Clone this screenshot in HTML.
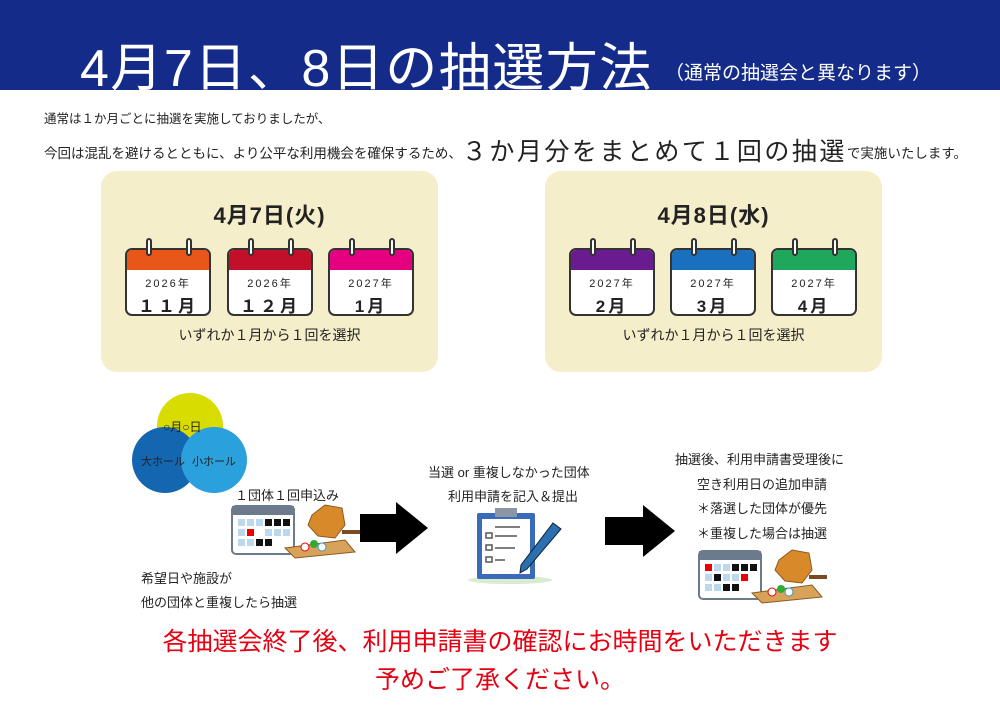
<!DOCTYPE html>
<html><head><meta charset="utf-8"><style>
*{margin:0;padding:0;box-sizing:border-box}
body{width:1000px;height:707px;background:#fff;position:relative;overflow:hidden;font-family:"Liberation Sans","Noto Sans CJK JP",sans-serif;color:#222}
.a{position:absolute;white-space:nowrap}
.box{position:absolute;background:#f5eecb;border-radius:16px;top:171px;width:337px;height:201px}
.cal{position:absolute;width:86px;height:68px;border:2px solid #333;border-radius:7px;background:#fff;overflow:hidden;top:248px}
.cal .h{height:20px}
.cal .y{text-align:center;font-size:11px;letter-spacing:2px;margin-top:5px}
.cal .m{text-align:center;font-size:17px;font-weight:bold;letter-spacing:3px;margin-top:1px}
.ring{position:absolute;width:6px;height:18px;border:2px solid #333;background:#fff;border-radius:3px;top:238px}
.sel{position:absolute;font-size:14px;width:337px;text-align:center;top:325px}
.ttl{position:absolute;font-size:22px;font-weight:bold;width:337px;text-align:center;top:198px;letter-spacing:1px}
.c{position:absolute;border-radius:50%}
</style></head><body>
<div class="a" style="left:0;top:0;width:1000px;height:90px;background:#142b8a"></div>
<div class="a" style="left:80px;top:26px;color:#fff;font-size:52px;letter-spacing:1.5px">4月7日、8日の抽選方法</div>
<div class="a" style="left:665px;top:58px;color:#fff;font-size:19px">（通常の抽選会と異なります）</div>
<div class="a" style="left:44px;top:108px;font-size:12.5px">通常は１か月ごとに抽選を実施しておりましたが、</div>
<div class="a" style="left:44px;top:130px;font-size:13.5px">今回は混乱を避けるとともに、より公平な利用機会を確保するため、<span style="font-size:25px;position:relative;top:2px;letter-spacing:2.5px">３か月分をまとめて１回の抽選</span>で実施いたします。</div>

<div class="box" style="left:101px"></div>
<div class="ttl" style="left:101px">4月7日(火)</div>
<div class="box" style="left:545px"></div>
<div class="ttl" style="left:545px">4月8日(水)</div>

<div class="cal" style="left:125px"><div class="h" style="background:#e8561a"></div><div class="y">2026年</div><div class="m">１１月</div></div>
<div class="cal" style="left:227px"><div class="h" style="background:#c3102a"></div><div class="y">2026年</div><div class="m">１２月</div></div>
<div class="cal" style="left:328px"><div class="h" style="background:#e4007f"></div><div class="y">2027年</div><div class="m">1月</div></div>
<div class="cal" style="left:569px"><div class="h" style="background:#6a1b8f"></div><div class="y">2027年</div><div class="m">2月</div></div>
<div class="cal" style="left:670px"><div class="h" style="background:#1a6fbf"></div><div class="y">2027年</div><div class="m">3月</div></div>
<div class="cal" style="left:771px"><div class="h" style="background:#1fa85c"></div><div class="y">2027年</div><div class="m">4月</div></div>
<div class="ring" style="left:146px"></div><div class="ring" style="left:186px"></div>
<div class="ring" style="left:248px"></div><div class="ring" style="left:288px"></div>
<div class="ring" style="left:349px"></div><div class="ring" style="left:389px"></div>
<div class="ring" style="left:590px"></div><div class="ring" style="left:630px"></div>
<div class="ring" style="left:691px"></div><div class="ring" style="left:731px"></div>
<div class="ring" style="left:792px"></div><div class="ring" style="left:832px"></div>
<div class="sel" style="left:101px">いずれか１月から１回を選択</div>
<div class="sel" style="left:545px">いずれか１月から１回を選択</div>

<div class="c" style="left:157px;top:393px;width:66px;height:66px;background:#d8dc00"></div>
<div class="c" style="left:132px;top:427px;width:66px;height:66px;background:#1566b0"></div>
<div class="c" style="left:181px;top:427px;width:66px;height:66px;background:#2aa0dc"></div>
<div class="a" style="left:163px;top:418px;font-size:12px">○月○日</div>
<div class="a" style="left:141px;top:453px;font-size:11px">大ホール</div>
<div class="a" style="left:192px;top:453px;font-size:11px">小ホール</div>
<div class="a" style="left:235px;top:485px;font-size:13px">１団体１回申込み</div>

<svg class="a" style="left:230px;top:500px" width="130" height="60">
<rect x="2" y="6" width="62" height="48" rx="4" fill="#fff" stroke="#6b7a8c" stroke-width="2"/>
<rect x="2" y="6" width="62" height="9" fill="#6b7a8c"/>
<g fill="#bcd8ef"><rect x="8" y="19" width="7" height="7"/><rect x="17" y="19" width="7" height="7"/><rect x="26" y="19" width="7" height="7"/><rect x="8" y="29" width="7" height="7"/><rect x="35" y="29" width="7" height="7"/><rect x="44" y="29" width="7" height="7"/><rect x="53" y="29" width="7" height="7"/><rect x="8" y="39" width="7" height="7"/><rect x="17" y="39" width="7" height="7"/></g>
<g fill="#111"><rect x="35" y="19" width="7" height="7"/><rect x="44" y="19" width="7" height="7"/><rect x="53" y="19" width="7" height="7"/><rect x="26" y="39" width="7" height="7"/><rect x="35" y="39" width="7" height="7"/></g>
<rect x="17" y="29" width="7" height="7" fill="#e00"/>
<polygon points="55,48 115,40 125,52 65,58" fill="#d9a25a" stroke="#8a5a20"/>
<polygon points="82,15 95,5 112,8 115,25 105,38 88,36 78,25" fill="#d88a2a" stroke="#8a5a20"/>
<rect x="112" y="30" width="18" height="4" fill="#7a4a20"/>
<circle cx="75" cy="47" r="4" fill="#fff" stroke="#e00"/><circle cx="84" cy="44" r="4" fill="#3a3"/><circle cx="92" cy="47" r="4" fill="#fff" stroke="#39c"/>
</svg>
<div class="a" style="left:141px;top:568px;font-size:13px">希望日や施設が</div>
<div class="a" style="left:141px;top:592px;font-size:13px">他の団体と重複したら抽選</div>

<svg class="a" style="left:360px;top:502px" width="70" height="52"><polygon points="0,12 36,12 36,0 68,26 36,52 36,40 0,40" fill="#000"/></svg>
<svg class="a" style="left:605px;top:505px" width="72" height="52"><polygon points="0,12 38,12 38,0 70,26 38,52 38,40 0,40" fill="#000"/></svg>

<div class="a" style="left:428px;top:462px;font-size:13px">当選 or 重複しなかった団体</div>
<div class="a" style="left:448px;top:486px;font-size:13px">利用申請を記入＆提出</div>
<svg class="a" style="left:465px;top:505px" width="105" height="82">
<ellipse cx="45" cy="75" rx="42" ry="4" fill="#d9ecd0"/>
<rect x="12" y="8" width="58" height="66" rx="2" fill="#3a6bb8"/>
<rect x="17" y="14" width="48" height="55" fill="#fff"/>
<rect x="30" y="3" width="22" height="9" fill="#8a96a6"/>
<g stroke="#555" stroke-width="1.5" fill="none"><rect x="21" y="28" width="6" height="5"/><rect x="21" y="40" width="6" height="5"/><rect x="21" y="52" width="6" height="5"/><line x1="30" y1="22" x2="55" y2="22"/><line x1="30" y1="31" x2="52" y2="31"/><line x1="30" y1="43" x2="50" y2="43"/><line x1="30" y1="55" x2="40" y2="55"/></g>
<polygon points="88,18 96,24 62,64 55,68 56,60" fill="#2a6fb0" stroke="#123" stroke-width="1"/>
</svg>

<div class="a" style="left:675px;top:449px;font-size:13px">抽選後、利用申請書受理後に</div>
<div class="a" style="left:697px;top:474px;font-size:13px">空き利用日の追加申請</div>
<div class="a" style="left:697px;top:498px;font-size:13px">＊落選した団体が優先</div>
<div class="a" style="left:697px;top:523px;font-size:13px">＊重複した場合は抽選</div>
<svg class="a" style="left:697px;top:545px" width="130" height="60">
<rect x="2" y="6" width="62" height="48" rx="4" fill="#fff" stroke="#6b7a8c" stroke-width="2"/>
<rect x="2" y="6" width="62" height="9" fill="#6b7a8c"/>
<g fill="#bcd8ef"><rect x="17" y="19" width="7" height="7"/><rect x="26" y="19" width="7" height="7"/><rect x="8" y="29" width="7" height="7"/><rect x="26" y="29" width="7" height="7"/><rect x="35" y="29" width="7" height="7"/><rect x="8" y="39" width="7" height="7"/><rect x="17" y="39" width="7" height="7"/></g>
<g fill="#111"><rect x="35" y="19" width="7" height="7"/><rect x="44" y="19" width="7" height="7"/><rect x="53" y="19" width="7" height="7"/><rect x="17" y="29" width="7" height="7"/><rect x="26" y="39" width="7" height="7"/><rect x="35" y="39" width="7" height="7"/></g>
<rect x="8" y="19" width="7" height="7" fill="#e00"/><rect x="44" y="29" width="7" height="7" fill="#e00"/>
<polygon points="55,48 115,40 125,52 65,58" fill="#d9a25a" stroke="#8a5a20"/>
<polygon points="82,15 95,5 112,8 115,25 105,38 88,36 78,25" fill="#d88a2a" stroke="#8a5a20"/>
<rect x="112" y="30" width="18" height="4" fill="#7a4a20"/>
<circle cx="75" cy="47" r="4" fill="#fff" stroke="#e00"/><circle cx="84" cy="44" r="4" fill="#3a3"/><circle cx="92" cy="47" r="4" fill="#fff" stroke="#39c"/>
</svg>

<div class="a" style="left:0;width:1000px;text-align:center;top:622px;font-size:25px;color:#e60012">各抽選会終了後、利用申請書の確認にお時間をいただきます</div>
<div class="a" style="left:0;width:1000px;text-align:center;top:660px;font-size:25px;color:#e60012">予めご了承ください。</div>
</body></html>
